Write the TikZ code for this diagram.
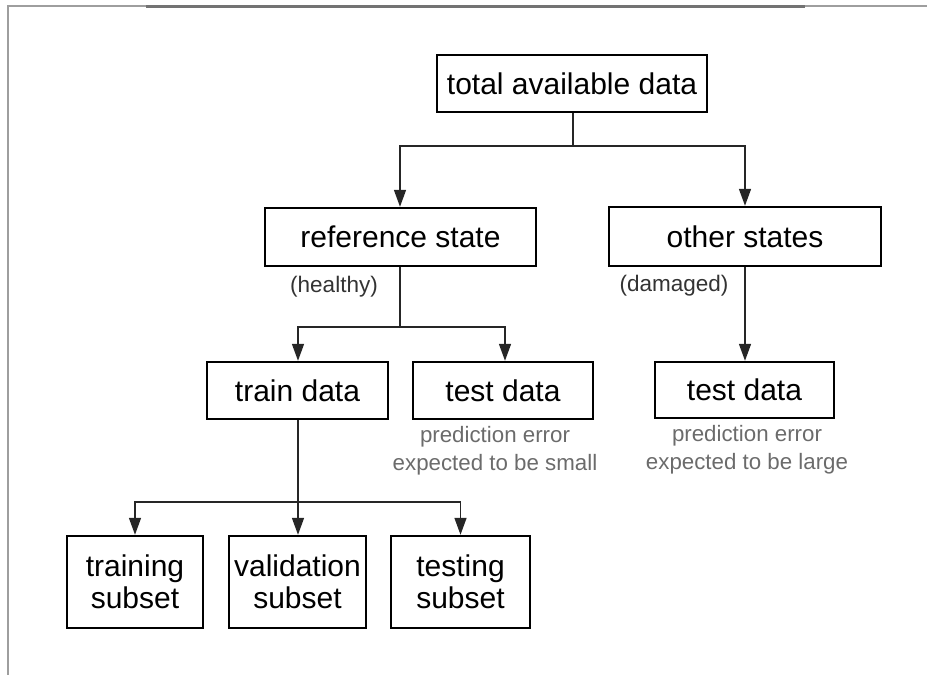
\documentclass[tikz,border=0pt]{standalone}
\usepackage{fontspec}
\setmainfont{Liberation Sans}
\usetikzlibrary{arrows.meta}
\definecolor{framegray}{gray}{0.62}
\definecolor{framedark}{gray}{0.45}
\definecolor{notegray}{gray}{0.42}
\definecolor{paren}{gray}{0.2}
\tikzset{
  box/.style={draw=black, line width=2.4pt, rectangle, inner sep=0pt, align=center,
    font=\fontsize{30}{32}\selectfont},
  conn/.style={draw=black!85, line width=1.5pt},
  arr/.style={conn, -{Triangle[length=17pt,width=12pt]}},
  paren/.style={text=paren, font=\fontsize{22.5}{24}\selectfont, inner sep=0pt},
  note/.style={text=notegray, font=\fontsize{22.3}{28}\selectfont, align=center, inner sep=0pt}
}
\begin{document}
\begin{tikzpicture}[x=1pt,y=-1pt]
\useasboundingbox (0,0) rectangle (927,675);
% frame
\draw[framegray, line width=1.3pt] (8,675) -- (8,6) -- (927,6);
\draw[framedark, line width=3pt] (146,6.5) -- (805,6.5);
% nodes
\node[box, minimum width=270pt, minimum height=57pt] (total) at (572,83.5) {total available data};
\node[box, minimum width=271pt, minimum height=58pt] (ref) at (400.5,237) {reference state};
\node[box, minimum width=272pt, minimum height=59pt] (other) at (745,236.5) {other states};
\node[box, minimum width=181pt, minimum height=57pt] (train) at (297.5,390.5) {train data};
\node[box, minimum width=180pt, minimum height=57pt] (testa) at (503,390.5) {test data};
\node[box, minimum width=179pt, minimum height=56pt] (testb) at (744.5,390) {test data};
\node[box, minimum width=136pt, minimum height=92pt] (training) at (135,582) {training\\subset};
\node[box, minimum width=137pt, minimum height=92pt] (validation) at (297.5,582) {validation\\subset};
\node[box, minimum width=139pt, minimum height=92pt] (testing) at (460.5,582) {testing\\subset};
% labels
\node[paren] (healthy) at (334,287) {(healthy)};
\node[paren] (damaged) at (674,286) {(damaged)};
\node[note] (notea) at (495,451) {prediction error\\expected to be small};
\node[note] (noteb) at (747,449.5) {prediction error\\expected to be large};
% junctions
\coordinate (j1) at (573,146);
\coordinate (j2) at (400,327);
\coordinate (j3) at (298,502);
% connectors
\draw[conn] (total.south -| j1) -- (j1);
\draw[arr] (j1) -| (ref.north -| j2);
\draw[arr] (j1) -| (other.north);
\draw[conn] (ref.south -| j2) -- (j2);
\draw[arr] (j2) -| (train.north -| j3);
\draw[arr] (j2) -| ([xshift=2pt]testa.north);
\draw[arr] (other.south) -- (other.south |- testb.north);
\draw[conn] (train.south -| j3) -- (j3);
\draw[arr] (j3) -- (validation.north -| j3);
\draw[arr] (j3) -| (training.north);
\draw[arr] (j3) -| (testing.north);
\end{tikzpicture}
\end{document}
